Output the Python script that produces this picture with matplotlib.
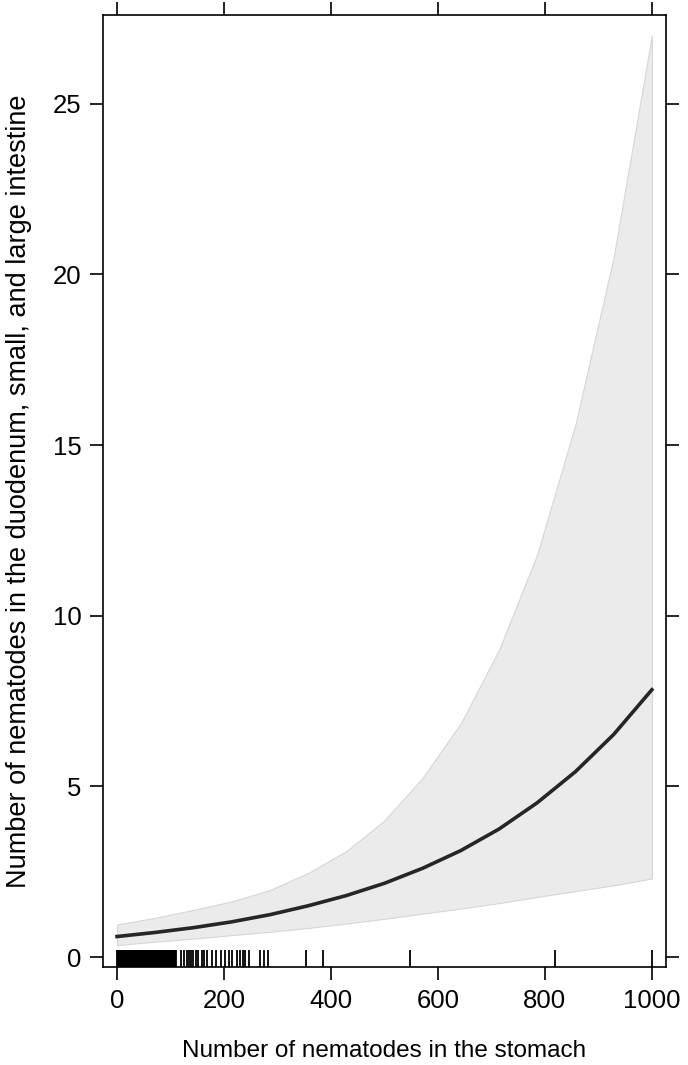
import numpy as np
import matplotlib.pyplot as plt

plt.rcParams['font.family'] = ['Liberation Sans', 'DejaVu Sans']

# fitted effect and confidence band
stomach = [0, 71.4, 142.9, 214.3, 285.7, 357.1, 428.6, 500, 571.4, 642.9,
           714.3, 785.7, 857.1, 928.6, 1000]
fit = [0.60, 0.72, 0.86, 1.03, 1.24, 1.50, 1.80, 2.16, 2.60, 3.12,
       3.75, 4.52, 5.43, 6.52, 7.83]
upper = [0.95, 1.15, 1.38, 1.63, 1.96, 2.46, 3.10, 4.00, 5.25, 6.85,
         9.00, 11.8, 15.6, 20.5, 27.0]
lower = [0.35, 0.45, 0.54, 0.64, 0.74, 0.85, 0.98, 1.12, 1.27, 1.42,
         1.58, 1.76, 1.93, 2.10, 2.30]

# observed stomach counts (rug)
rug = [0, 1, 2, 3, 4, 5, 6, 7, 8, 9, 10, 11, 12, 13, 14, 15, 16, 17, 18, 19,
       20, 21, 22, 23, 24, 25, 26, 27, 28, 29, 30, 31, 32, 33, 34, 35, 36, 37,
       38, 39, 40, 41, 42, 43, 44, 45, 46, 47, 48, 49, 50, 51, 52, 53, 54, 55,
       56, 57, 58, 59, 60, 61, 62, 63, 64, 65, 66, 67, 68, 69, 70, 71, 72, 73,
       74, 75, 76, 77, 78, 79, 80, 81, 82, 83, 84, 85, 86, 87, 88, 89, 90, 91,
       92, 93, 94, 95, 96, 97, 98, 99, 100, 101, 102, 103, 104, 105, 106, 107,
       108, 109, 110,
       120, 125, 130, 134, 138, 143, 147, 152, 158, 163, 169, 178, 185, 194,
       201, 210, 215, 224, 230, 235, 240, 246, 267, 274, 283, 353, 385, 548,
       818, 1000]

xticks = [0, 200, 400, 600, 800, 1000]
yticks = [0, 5, 10, 15, 20, 25]

fig = plt.figure(figsize=(6.88, 10.65), dpi=100)
ax = fig.add_axes([0.1497, 0.092, 0.818, 0.894])

ax.fill_between(stomach, lower, upper, facecolor='#ebebeb', edgecolor='#d6d6d6',
                linewidth=0.8, zorder=1)
ax.plot(stomach, fit, color='#262626', linewidth=2.6, zorder=3)

ax.vlines(rug, 0, 0.018, transform=ax.get_xaxis_transform(),
          color='black', linewidth=1.3, zorder=2)

ax.set_xlim(-26.2, 1026)
ax.set_ylim(-0.293, 27.6)
ax.set_xticks(xticks)
ax.set_yticks(yticks)
ax.tick_params(direction='out', length=9.5, width=1.2, labelsize=18.5,
               top=True, right=True, colors='black', pad=6)
for s in ax.spines.values():
    s.set_linewidth(1.2)

ax.set_xlabel('Number of nematodes in the stomach', fontsize=17.5, labelpad=20)
ax.set_ylabel('Number of nematodes in the duodenum, small, and large intestine',
              fontsize=19.5, labelpad=15)

fig.savefig('out.png', dpi=100)
